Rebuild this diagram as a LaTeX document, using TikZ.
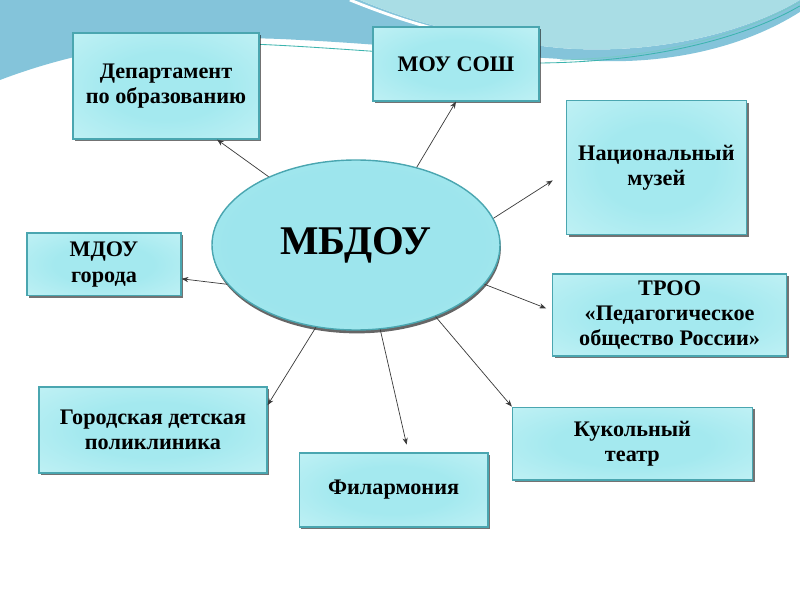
\documentclass[tikz,border=0pt]{standalone}
\usepackage{fontspec}
\setmainfont{Liberation Serif}
\usetikzlibrary{arrows.meta,shadows,shapes.geometric}
\definecolor{mbteal}{HTML}{4AA6B0}
\definecolor{mbcyan}{HTML}{A4E9EF}
\definecolor{mbmid}{HTML}{BDF0F4}
\definecolor{mblight}{HTML}{DDF8FB}
\definecolor{mbedge}{HTML}{E6FBFD}
\definecolor{hubcyan}{HTML}{9DE5ED}
\definecolor{hubedge}{HTML}{CBF2F6}
\definecolor{mbline}{HTML}{3A3A3A}
\definecolor{bgblue}{HTML}{84C4DA}
\definecolor{bgteal}{HTML}{A9DDE5}
\definecolor{bgstroke}{HTML}{3CB4AE}
\pgfdeclareradialshading{boxglow}{\pgfpoint{0bp}{0bp}}{%
  color(0bp)=(mbcyan); color(16bp)=(mbcyan); color(34bp)=(mbmid);
  color(48bp)=(mblight); color(50bp)=(mbedge)}
\pgfdeclareradialshading{hubglow}{\pgfpoint{0bp}{0bp}}{%
  color(0bp)=(hubcyan); color(22bp)=(hubcyan); color(42bp)=(mbcyan!70!hubedge);
  color(50bp)=(hubedge)}
\tikzset{
  box/.style={draw=mbteal, line width=0.8pt, shading=boxglow, align=center, inner sep=2pt,
              font=\fontsize{15.8}{18}\selectfont\bfseries,
              drop shadow={shadow xshift=1.6pt, shadow yshift=-1.6pt, fill=black, opacity=0.55}},
  hub/.style={ellipse, draw=mbteal, line width=1pt, shading=hubglow, inner sep=0pt,
              font=\fontsize{29}{32}\selectfont\bfseries,
              drop shadow={shadow xshift=0.6pt, shadow yshift=-2.4pt, fill=black, opacity=0.6}},
  arr/.style={-{Stealth[length=1.7mm, width=1.3mm]}, draw=mbline, line width=0.5pt},
}

\begin{document}
\begin{tikzpicture}
    \fill[white] (0,0) rectangle (20,15);
    \useasboundingbox (0,0) rectangle (20,15);
    % wave at the top of the slide
    \begin{scope}[yshift=15cm, x=0.025cm, y=-0.025cm]
      \fill[bgblue] (0,0) -- (360,0) .. controls (420,25) and (480,40) .. (560,48)
        .. controls (660,56) and (750,30) .. (800,0) -- (800,12)
        .. controls (740,50) and (660,66) .. (580,60)
        .. controls (480,55) and (400,45) .. (300,40)
        .. controls (200,34) and (100,42) .. (0,80) -- cycle;
      \fill[bgteal] (360,0) .. controls (420,25) and (480,40) .. (560,48)
        .. controls (660,56) and (750,30) .. (800,0) -- cycle;
      \draw[white, line width=2pt] (350,0) .. controls (390,16) and (430,30) .. (480,38);
      \draw[bgstroke, line width=0.6pt] (250,44) .. controls (330,47) and (420,56) .. (520,60);
      \draw[bgstroke, line width=0.6pt] (540,63) .. controls (660,62) and (750,35) .. (800,6);
      \draw[bgstroke!70, line width=0.6pt] (560,60) .. controls (670,58) and (750,30) .. (800,2);
    \end{scope}

    \node[hub]  (hub)  at (8.9,8.875)  [minimum width=7.2cm, minimum height=4.25cm] {МБДОУ};
    \node[box]  (dep)  at (4.15,12.85) [minimum width=4.65cm, minimum height=2.65cm] {Департамент\\по образованию};
    \node[box]  (mou)  at (11.4,13.4)  [minimum width=4.15cm, minimum height=1.85cm] {МОУ СОШ};
    \node[box]  (muz)  at (16.41,10.81)[minimum width=4.5cm, minimum height=3.35cm] {Национальный\\музей};
    \node[box]  (mdou) at (2.6,8.39)   [minimum width=3.85cm, minimum height=1.57cm] {МДОУ\\города};
    \node[box]  (troo) at (16.74,7.125)[minimum width=5.85cm, minimum height=2.05cm] {ТРОО\\«Педагогическое\\общество России»};
    \node[box]  (pol)  at (3.825,4.25) [minimum width=5.7cm, minimum height=2.15cm] {Городская детская\\поликлиника};
    \node[box]  (fil)  at (9.84,2.75)  [minimum width=4.72cm, minimum height=1.85cm] {Филармония};
    \node[box]  (kuk)  at (15.81,3.91) [minimum width=6.0cm, minimum height=1.82cm] {Кукольный\\театр};

    \draw[arr] (hub.142) -- ([xshift=1.275cm]dep.south);
    \draw[arr] (hub.52)  -- (mou.south);
    \draw[arr, shorten >=3.9mm] (hub.11) -- ([yshift=-1.1mm]muz.west);
    \draw[arr] (hub.197) -- ([yshift=-3.6mm]mdou.east);
    \draw[arr, shorten >=1.6mm] (hub.343) -- ([yshift=1.1mm]troo.west);
    \draw[arr] (hub.244) -- ([yshift=6.2mm]pol.east);
    \draw[arr, shorten >=2mm] (hub.286) -- ([xshift=3.7mm]fil.north);
    \draw[arr] (hub.318) -- (kuk.north west);
  \end{tikzpicture}
\end{document}
